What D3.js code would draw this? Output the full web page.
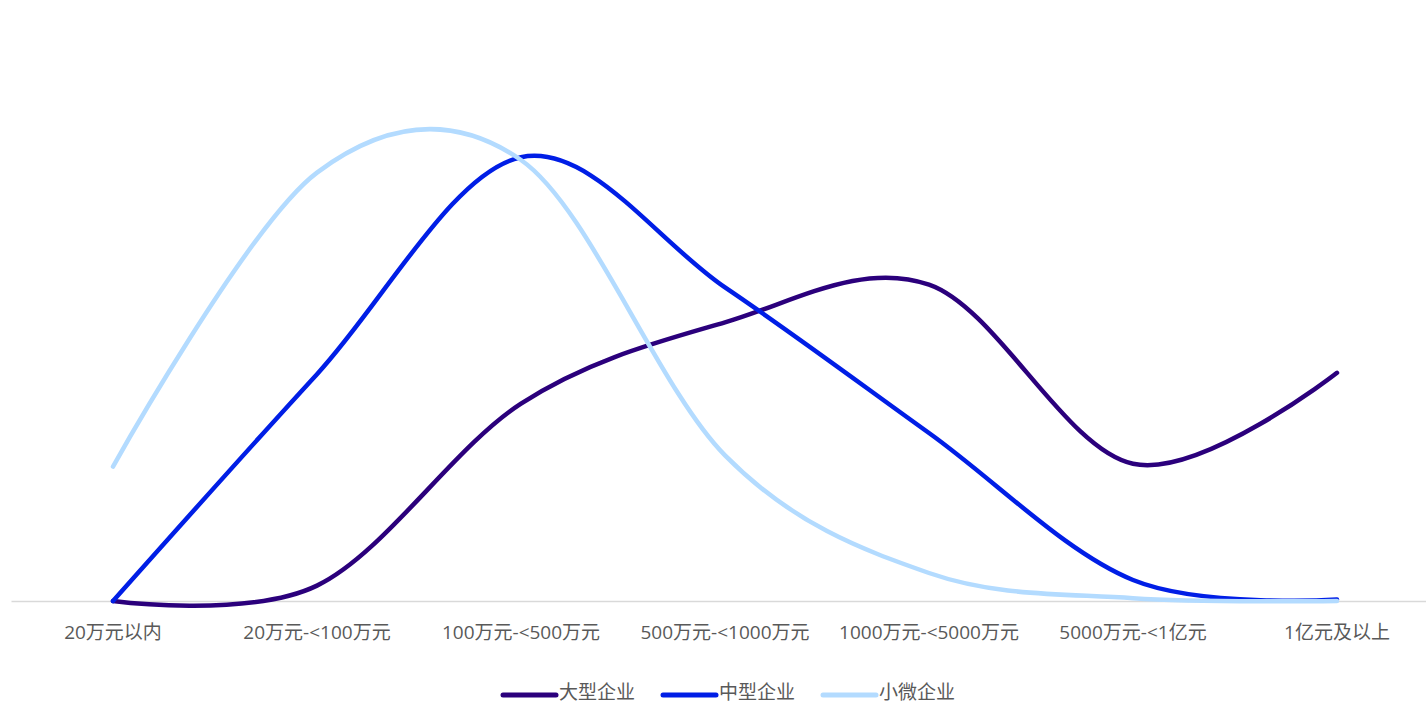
<!DOCTYPE html>
<html>
<head>
<meta charset="utf-8">
<script src="https://cdn.jsdelivr.net/npm/d3@7"></script>
<style>
  html, body { margin: 0; padding: 0; background: #fff; }
  svg { display: block; font-family: "Open Sans", "Noto Sans CJK SC", sans-serif; }
</style>
</head>
<body>
<svg id="chart" width="1426" height="705"></svg>
<script>
const categories = ["20万元以内", "20万元-<100万元", "100万元-<500万元", "500万元-<1000万元", "1000万元-<5000万元", "5000万元-<1亿元", "1亿元及以上"];
const seriesNames = ["大型企业", "中型企业", "小微企业"];
const largeValues = [0, 1.1, 14.1, 19.9, 22.6, 9.8, 16.3];
const mediumValues = [0, 16.2, 31.7, 22.4, 12.0, 1.5, 0.1];
const smallValues = [9.6, 30.6, 31.5, 10.4, 2.0, 0.2, 0];
const seriesColors = ["#2B007C", "#001EE6", "#B3DBFF"];

const series = [
  { name: seriesNames[0], values: largeValues, color: seriesColors[0] },
  { name: seriesNames[1], values: mediumValues, color: seriesColors[1] },
  { name: seriesNames[2], values: smallValues, color: seriesColors[2] }
];

const svg = d3.select("#chart");
const FONT = '"Open Sans", "Noto Sans CJK SC", sans-serif';

const x = d3.scaleBand().domain(categories).range([11, 1439]).paddingInner(0).paddingOuter(0);
const y = d3.scaleLinear().domain([0, 40]).range([601, 41]);

// axis baseline
const xAxis = d3.axisBottom(x).tickSize(0).tickPadding(25);
const gx = svg.append("g").attr("transform", `translate(0,${y(0)})`).call(xAxis);
gx.select(".domain").attr("stroke", "#D9D9D9").attr("stroke-width", 1.5);
gx.selectAll(".tick text")
  .attr("fill", "#595959")
  .style("font-size", "19px")
  .style("font-family", FONT);

const line = d3.line()
  .x((d, i) => x(categories[i]) + x.bandwidth() / 2)
  .y(d => y(d))
  .curve(d3.curveCatmullRom.alpha(0));

svg.append("g").selectAll("path")
  .data(series)
  .join("path")
  .attr("d", d => line(d.values))
  .attr("fill", "none")
  .attr("stroke", d => d.color)
  .attr("stroke-width", 4.5)
  .attr("stroke-linecap", "round")
  .attr("stroke-linejoin", "round");

// legend
const legendX = [503, 663, 823];
const legend = svg.append("g").selectAll("g")
  .data(series)
  .join("g")
  .attr("transform", (d, i) => `translate(${legendX[i]},695)`);
legend.append("line")
  .attr("x1", 0).attr("x2", 53).attr("y1", 0).attr("y2", 0)
  .attr("stroke", d => d.color)
  .attr("stroke-width", 5)
  .attr("stroke-linecap", "round");
legend.append("text")
  .attr("x", 56).attr("y", -3).attr("dy", "0.35em")
  .attr("fill", "#595959")
  .style("font-size", "19px")
  .style("font-family", FONT)
  .text(d => d.name);
</script>
</body>
</html>
